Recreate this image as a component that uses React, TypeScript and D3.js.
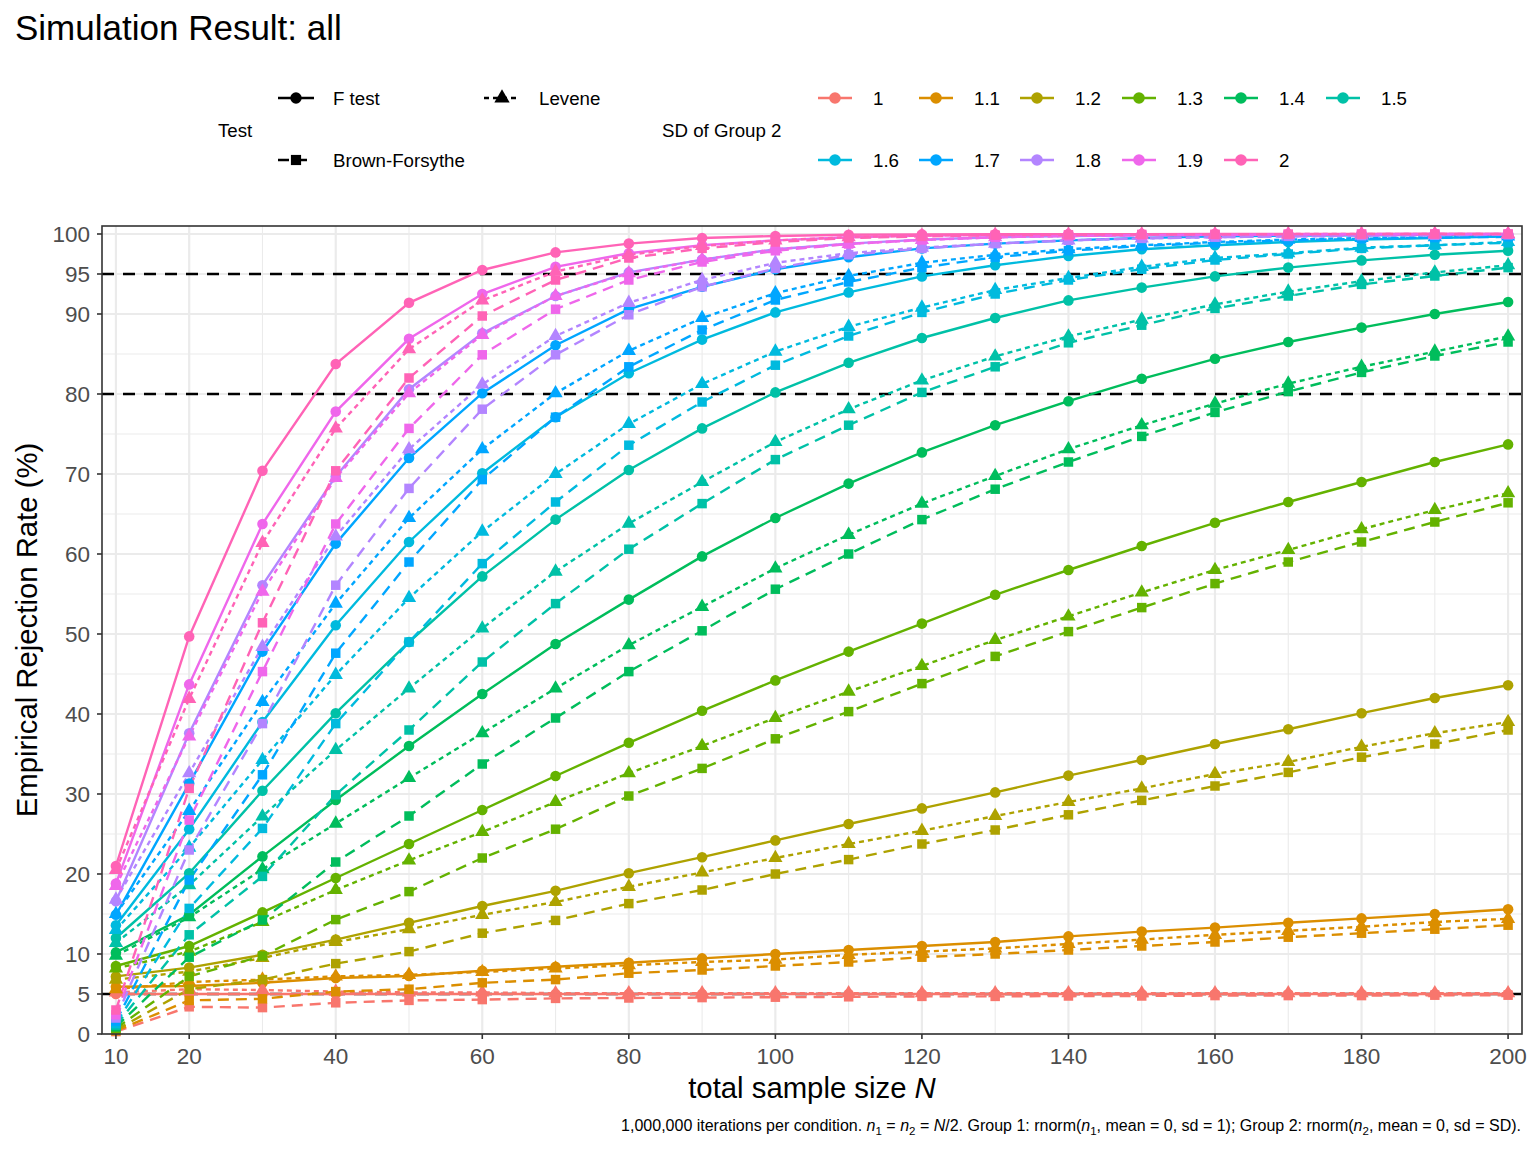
import * as d3 from "d3";

// total sample size N (n1 = n2 = N/2)
const sampleSizes = [10, 20, 30, 40, 50, 60, 70, 80, 90, 100, 110, 120, 130, 140, 150, 160, 170, 180, 190, 200];

const sdLevels = ["1", "1.1", "1.2", "1.3", "1.4", "1.5", "1.6", "1.7", "1.8", "1.9", "2"];
const sdColors = ["#F8766D", "#DB8E00", "#AEA200", "#64B200", "#00BD5C", "#00C1A7", "#00BADE", "#00A6FF", "#B385FF", "#EF67EB", "#FF63B6"];
const testNames = ["F test", "Levene", "Brown-Forsythe"];

const xTicks = [10, 20, 40, 60, 80, 100, 120, 140, 160, 180, 200];
const xMinor = [30, 50, 70, 90, 110, 130, 150, 170, 190];
const yTicks = [0, 5, 10, 20, 30, 40, 50, 60, 70, 80, 90, 95, 100];
const yMinor = [15, 25, 35, 45, 55, 65, 75, 85];
const refLines = [5, 80, 95];

// empirical rejection rate (%), one row per SD of group 2
const fTestRates = [
  [5.0, 5.0, 5.0, 5.0, 5.0, 5.0, 5.0, 5.0, 5.0, 5.0, 5.0, 5.0, 5.0, 5.0, 5.0, 5.0, 5.0, 5.0, 5.0, 5.0],
  [5.9, 6.0, 6.4, 7.0, 7.25, 7.9, 8.4, 8.9, 9.45, 10.0, 10.5, 11.0, 11.5, 12.2, 12.8, 13.3, 13.9, 14.45, 15.0, 15.6],
  [7.2, 8.3, 9.9, 11.8, 13.9, 16.0, 17.9, 20.1, 22.1, 24.2, 26.25, 28.2, 30.2, 32.3, 34.25, 36.25, 38.1, 40.1, 42.0, 43.6],
  [8.5, 11.0, 15.2, 19.5, 23.75, 28.0, 32.25, 36.4, 40.4, 44.2, 47.8, 51.3, 54.9, 58.0, 61.0, 63.9, 66.5, 69.0, 71.5, 73.7],
  [10.2, 14.9, 22.2, 29.25, 36.0, 42.5, 48.75, 54.3, 59.7, 64.5, 68.8, 72.7, 76.1, 79.1, 81.9, 84.4, 86.5, 88.3, 90.0, 91.5],
  [12.0, 20.1, 30.4, 40.1, 49.0, 57.2, 64.3, 70.5, 75.7, 80.2, 83.9, 87.0, 89.5, 91.7, 93.3, 94.7, 95.8, 96.7, 97.4, 97.9],
  [13.6, 25.6, 39.0, 51.1, 61.5, 70.1, 77.1, 82.6, 86.8, 90.2, 92.7, 94.7, 96.1, 97.25, 98.1, 98.6, 99.0, 99.3, 99.5, 99.7],
  [14.9, 31.3, 47.8, 61.3, 72.0, 80.1, 86.1, 90.6, 93.4, 95.6, 97.1, 98.2, 98.8, 99.2, 99.5, 99.7, 99.8, 99.85, 99.9, 99.9],
  [16.6, 37.6, 56.1, 69.7, 80.6, 87.6, 92.25, 95.2, 96.8, 98.1, 98.8, 99.3, 99.6, 99.75, 99.85, 99.9, 99.95, 99.95, 99.97, 99.98],
  [18.8, 43.7, 63.75, 77.8, 86.9, 92.5, 95.9, 97.6, 98.6, 99.2, 99.6, 99.8, 99.9, 99.95, 99.97, 99.98, 99.99, 99.99, 100, 100],
  [21.0, 49.7, 70.4, 83.75, 91.4, 95.5, 97.7, 98.8, 99.5, 99.75, 99.9, 99.95, 99.97, 99.98, 99.99, 100, 100, 100, 100, 100],
];

const leveneRates = [
  [5.2, 5.6, 5.5, 5.3, 5.2, 5.2, 5.1, 5.1, 5.1, 5.1, 5.1, 5.1, 5.1, 5.1, 5.1, 5.1, 5.1, 5.1, 5.1, 5.1],
  [5.6, 6.5, 6.8, 7.2, 7.4, 7.75, 8.2, 8.6, 9.0, 9.3, 9.9, 10.3, 10.7, 11.25, 11.8, 12.4, 12.9, 13.4, 14.0, 14.4],
  [6.8, 7.8, 9.5, 11.5, 13.1, 14.9, 16.5, 18.4, 20.2, 22.0, 23.75, 25.4, 27.25, 29.0, 30.7, 32.5, 34.0, 35.9, 37.6, 39.0],
  [8.2, 10.3, 14.0, 18.0, 21.7, 25.25, 29.0, 32.6, 36.0, 39.5, 42.8, 46.0, 49.25, 52.2, 55.2, 58.0, 60.5, 63.1, 65.5, 67.6],
  [9.8, 14.6, 20.6, 26.3, 32.0, 37.6, 43.2, 48.6, 53.4, 58.2, 62.4, 66.3, 69.75, 73.1, 76.1, 78.8, 81.3, 83.4, 85.3, 87.2],
  [11.4, 18.6, 27.2, 35.5, 43.2, 50.7, 57.8, 63.8, 69.0, 74.0, 78.1, 81.7, 84.7, 87.2, 89.3, 91.2, 92.8, 94.1, 95.2, 96.1],
  [13.0, 23.3, 34.25, 44.9, 54.5, 62.8, 70.0, 76.25, 81.25, 85.3, 88.4, 90.8, 93.0, 94.5, 95.9, 97.0, 97.6, 98.3, 98.6, 99.0],
  [15.0, 27.9, 41.5, 53.8, 64.5, 73.1, 80.1, 85.4, 89.5, 92.6, 94.75, 96.4, 97.4, 98.1, 98.6, 99.0, 99.3, 99.5, 99.6, 99.7],
  [16.8, 32.6, 48.4, 62.2, 73.1, 81.2, 87.25, 91.4, 94.25, 96.4, 97.6, 98.3, 98.8, 99.2, 99.45, 99.6, 99.7, 99.8, 99.85, 99.9],
  [18.5, 37.2, 55.3, 69.5, 80.1, 87.4, 92.25, 95.1, 96.8, 98.1, 98.75, 99.25, 99.6, 99.75, 99.85, 99.9, 99.95, 99.97, 99.98, 99.99],
  [20.5, 41.9, 61.4, 75.7, 85.6, 91.7, 95.3, 97.4, 98.5, 99.2, 99.6, 99.8, 99.9, 99.95, 99.97, 99.98, 99.99, 100, 100, 100],
];

const brownForsytheRates = [
  [0.3, 3.4, 3.3, 3.9, 4.2, 4.3, 4.45, 4.5, 4.55, 4.6, 4.65, 4.7, 4.7, 4.75, 4.75, 4.8, 4.8, 4.8, 4.85, 4.85],
  [0.4, 4.2, 4.4, 5.3, 5.6, 6.4, 6.8, 7.6, 8.0, 8.5, 9.0, 9.6, 10.0, 10.5, 11.0, 11.5, 12.1, 12.6, 13.1, 13.6],
  [0.5, 5.6, 6.8, 8.8, 10.3, 12.6, 14.2, 16.3, 18.0, 20.0, 21.8, 23.75, 25.5, 27.4, 29.2, 31.0, 32.7, 34.6, 36.25, 38.0],
  [0.7, 7.2, 9.75, 14.3, 17.8, 22.0, 25.6, 29.75, 33.2, 36.9, 40.3, 43.8, 47.2, 50.3, 53.3, 56.3, 59.0, 61.5, 64.0, 66.4],
  [0.9, 9.6, 14.25, 21.5, 27.25, 33.75, 39.5, 45.3, 50.4, 55.6, 60.0, 64.3, 68.1, 71.5, 74.7, 77.7, 80.3, 82.7, 84.75, 86.5],
  [1.1, 12.4, 19.7, 29.9, 38.0, 46.5, 53.8, 60.6, 66.3, 71.8, 76.1, 80.2, 83.4, 86.4, 88.6, 90.7, 92.25, 93.7, 94.75, 95.8],
  [1.3, 15.7, 25.7, 38.8, 49.0, 58.8, 66.5, 73.6, 79.0, 83.6, 87.25, 90.2, 92.5, 94.25, 95.6, 96.75, 97.5, 98.2, 98.6, 98.9],
  [1.6, 19.25, 32.4, 47.6, 59.0, 69.3, 77.1, 83.4, 88.0, 91.75, 94.0, 95.8, 97.1, 97.9, 98.5, 98.9, 99.2, 99.4, 99.55, 99.65],
  [2.0, 23.0, 38.8, 56.1, 68.2, 78.1, 84.9, 89.9, 93.4, 95.7, 97.4, 98.2, 98.8, 99.2, 99.45, 99.6, 99.7, 99.8, 99.85, 99.9],
  [2.4, 26.75, 45.3, 63.75, 75.7, 84.9, 90.6, 94.25, 96.5, 97.9, 98.75, 99.25, 99.6, 99.75, 99.85, 99.9, 99.95, 99.97, 99.98, 99.99],
  [3.0, 30.7, 51.4, 70.4, 82.0, 89.75, 94.25, 97.0, 98.2, 99.0, 99.5, 99.7, 99.85, 99.9, 99.95, 99.97, 99.98, 99.99, 100, 100],
];

const FONT = "'Liberation Sans', Arial, sans-serif";
const W = 1536;
const H = 1152;
const panel = { left: 102, right: 1522, top: 226, bottom: 1034 };

// per test: dash pattern and point shape
const dashes = [undefined, "5,4", "11,7"];
const shapes = [d3.symbolCircle, d3.symbolTriangle, d3.symbolSquare];
const shapeSizes = [88, 88, 90];

export default function App() {
  const x = d3.scaleLinear().domain([8.1, 201.9]).range([panel.left, panel.right]);
  const y = d3.scaleLinear().domain([0, 101]).range([panel.bottom, panel.top]);
  const rateTables = [fTestRates, leveneRates, brownForsytheRates];

  const line = d3
    .line<number>()
    .x((_, i) => x(sampleSizes[i]))
    .y((d) => y(d));

  const symbolPath = (t: number, scale = 1) =>
    d3.symbol().type(shapes[t]).size(shapeSizes[t] * scale)() as string;

  // legend layout
  const sdColX = [835, 936, 1037, 1139, 1241, 1343];
  const rowY = [98, 160];

  return (
    <svg
      width={W}
      height={H}
      style={{ position: "absolute", left: 0, top: 0, background: "#fff" }}
      fontFamily={FONT}
    >
      <rect width={W} height={H} fill="#fff" />

      {/* title */}
      <text x={15} y={40} fontSize={35} fill="#000">
        Simulation Result: all
      </text>

      {/* legend: Test */}
      <text x={218} y={130} fontSize={18.7} dy="0.35em">
        Test
      </text>
      {[
        { t: 0, cx: 296, cy: rowY[0] },
        { t: 1, cx: 502, cy: rowY[0] },
        { t: 2, cx: 296, cy: rowY[1] },
      ].map(({ t, cx, cy }) => (
        <g key={"tk" + t}>
          <line
            x1={cx - 18}
            x2={cx + 18}
            y1={cy}
            y2={cy}
            stroke="#000"
            strokeWidth={2.6}
            strokeDasharray={dashes[t]}
          />
          <path d={symbolPath(t, 1.15)} transform={`translate(${cx},${cy})`} fill="#000" />
          <text x={cx + 37} y={cy} fontSize={18.7} dy="0.35em">
            {testNames[t]}
          </text>
        </g>
      ))}

      {/* legend: SD of Group 2 */}
      <text x={662} y={130} fontSize={18.7} dy="0.35em">
        SD of Group 2
      </text>
      {sdLevels.map((lev, i) => {
        const cx = sdColX[i % 6];
        const cy = rowY[Math.floor(i / 6)];
        return (
          <g key={"sk" + lev}>
            <line x1={cx - 17} x2={cx + 17} y1={cy} y2={cy} stroke={sdColors[i]} strokeWidth={2.6} />
            <circle cx={cx} cy={cy} r={5.8} fill={sdColors[i]} />
            <text x={cx + 38} y={cy} fontSize={18.7} dy="0.35em">
              {lev}
            </text>
          </g>
        );
      })}

      {/* panel grid */}
      <g>
        {yMinor.map((v) => (
          <line key={"ym" + v} x1={panel.left} x2={panel.right} y1={y(v)} y2={y(v)} stroke="#EBEBEB" strokeWidth={1.1} />
        ))}
        {xMinor.map((v) => (
          <line key={"xm" + v} x1={x(v)} x2={x(v)} y1={panel.top} y2={panel.bottom} stroke="#EBEBEB" strokeWidth={1.1} />
        ))}
        {yTicks.map((v) => (
          <line key={"yg" + v} x1={panel.left} x2={panel.right} y1={y(v)} y2={y(v)} stroke="#EBEBEB" strokeWidth={2.2} />
        ))}
        {xTicks.map((v) => (
          <line key={"xg" + v} x1={x(v)} x2={x(v)} y1={panel.top} y2={panel.bottom} stroke="#EBEBEB" strokeWidth={2.2} />
        ))}
      </g>

      {/* reference lines */}
      {refLines.map((v) => (
        <line
          key={"ref" + v}
          x1={panel.left}
          x2={panel.right}
          y1={y(v)}
          y2={y(v)}
          stroke="#000"
          strokeWidth={2.6}
          strokeDasharray="12,9"
        />
      ))}

      {/* lines */}
      {rateTables.map((table, t) =>
        table.map((rates, s) => (
          <path
            key={`l${t}-${s}`}
            d={line(rates) as string}
            fill="none"
            stroke={sdColors[s]}
            strokeWidth={2.4}
            strokeDasharray={dashes[t]}
          />
        ))
      )}

      {/* points */}
      {rateTables.map((table, t) =>
        table.map((rates, s) =>
          rates.map((v, i) => (
            <path
              key={`p${t}-${s}-${i}`}
              d={symbolPath(t)}
              transform={`translate(${x(sampleSizes[i])},${y(v)})`}
              fill={sdColors[s]}
            />
          ))
        )
      )}

      {/* panel border */}
      <rect
        x={panel.left}
        y={panel.top}
        width={panel.right - panel.left}
        height={panel.bottom - panel.top}
        fill="none"
        stroke="#333333"
        strokeWidth={1.6}
      />

      {/* y axis */}
      {yTicks.map((v) => (
        <g key={"yt" + v}>
          <line x1={panel.left - 5} x2={panel.left} y1={y(v)} y2={y(v)} stroke="#333333" strokeWidth={1.6} />
          <text x={panel.left - 12} y={y(v)} dy="0.35em" textAnchor="end" fontSize={22.5} fill="#4D4D4D">
            {v}
          </text>
        </g>
      ))}

      {/* x axis */}
      {xTicks.map((v) => (
        <g key={"xt" + v}>
          <line x1={x(v)} x2={x(v)} y1={panel.bottom} y2={panel.bottom + 5} stroke="#333333" strokeWidth={1.6} />
          <text x={x(v)} y={panel.bottom + 30} textAnchor="middle" fontSize={22.5} fill="#4D4D4D">
            {v}
          </text>
        </g>
      ))}

      {/* axis titles */}
      <text x={(panel.left + panel.right) / 2} y={1098} textAnchor="middle" fontSize={29.3}>
        total sample size <tspan fontStyle="italic">N</tspan>
      </text>
      <text
        transform={`translate(37,${(panel.top + panel.bottom) / 2}) rotate(-90)`}
        textAnchor="middle"
        fontSize={29.3}
      >
        Empirical Rejection Rate (%)
      </text>

      {/* caption */}
      <text x={1521} y={1131} textAnchor="end" fontSize={16}>
        1,000,000 iterations per condition. <tspan fontStyle="italic">n</tspan>
        <tspan fontSize={11.5} dy={4}>1</tspan>
        <tspan dy={-4}> = </tspan>
        <tspan fontStyle="italic">n</tspan>
        <tspan fontSize={11.5} dy={4}>2</tspan>
        <tspan dy={-4}> = </tspan>
        <tspan fontStyle="italic">N</tspan>/2. Group 1: rnorm(<tspan fontStyle="italic">n</tspan>
        <tspan fontSize={11.5} dy={4}>1</tspan>
        <tspan dy={-4}>, mean = 0, sd = 1); Group 2: rnorm(</tspan>
        <tspan fontStyle="italic">n</tspan>
        <tspan fontSize={11.5} dy={4}>2</tspan>
        <tspan dy={-4}>, mean = 0, sd = SD).</tspan>
      </text>
    </svg>
  );
}
